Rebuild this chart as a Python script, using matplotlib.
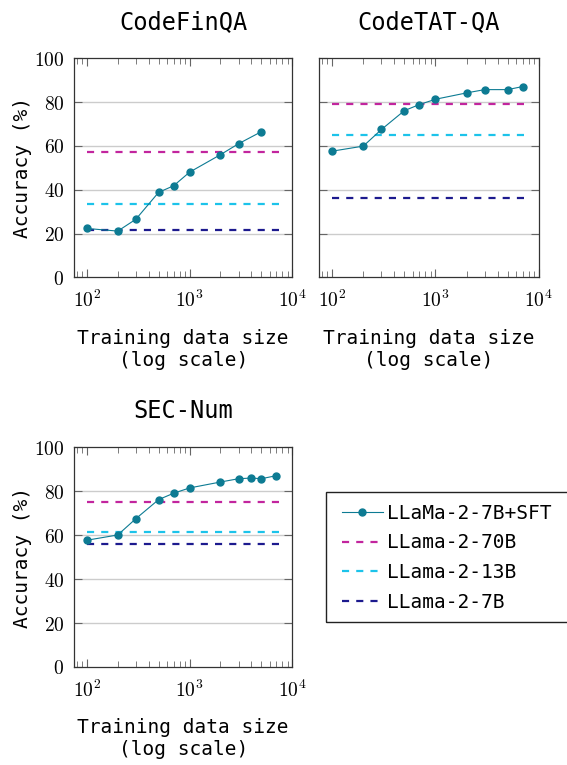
import matplotlib
matplotlib.use('Agg')
import matplotlib.pyplot as plt
import numpy as np
from matplotlib.ticker import FixedLocator, FuncFormatter, LogLocator, NullFormatter
from matplotlib.patches import Rectangle

plt.rcParams['mathtext.fontset'] = 'cm'
plt.rcParams['font.family'] = 'DejaVu Sans Mono'

## Data
titles = ['CodeFinQA', 'CodeTAT-QA', 'SEC-Num']

sizes_finqa = [100, 200, 300, 500, 700, 1000, 2000, 3000, 5000]
acc_finqa = [22.3, 21.1, 26.5, 38.8, 41.8, 48.0, 56.0, 61.0, 66.5]

sizes_tatqa = [100, 200, 300, 500, 700, 1000, 2000, 3000, 5000, 7000]
acc_tatqa = [57.6, 59.9, 67.5, 76.1, 78.9, 81.3, 84.2, 85.7, 85.7, 87.1]

sizes_secnum = [100, 200, 300, 500, 700, 1000, 2000, 3000, 4000, 5000, 7000]
acc_secnum = [57.7, 60.1, 67.5, 76.2, 79.1, 81.5, 84.2, 85.7, 86.0, 85.7, 87.1]

# baselines: LLama-2-70B, LLama-2-13B, LLama-2-7B
base_finqa = [57.3, 33.4, 21.8]
base_tatqa = [79.3, 65.0, 36.0]
base_secnum = [74.9, 61.5, 56.2]
base_span = [100, 8500]

base_names = ['LLama-2-70B', 'LLama-2-13B', 'LLama-2-7B']
base_colors = ['#c2259e', '#1cc3ea', '#1c1a8e']
sft_name = 'LLaMa-2-7B+SFT'
sft_color = '#0d7b93'

W, H = 567, 765
fig = plt.figure(figsize=(W / 100, H / 100), dpi=100)


def px_box(left, top, right, bottom):
    return [left / W, 1 - bottom / H, (right - left) / W, (bottom - top) / H]


boxes = [px_box(74, 58.3, 292.3, 277.3),
         px_box(319.3, 58.3, 538.7, 277.3),
         px_box(74, 447.3, 292.3, 667)]
panels = [(sizes_finqa, acc_finqa, base_finqa),
          (sizes_tatqa, acc_tatqa, base_tatqa),
          (sizes_secnum, acc_secnum, base_secnum)]

for i, (box, title, (xs, ys, bases)) in enumerate(zip(boxes, titles, panels)):
    ax = fig.add_axes(box)
    ax.set_xscale('log')
    ax.set_xlim(75, 10000)
    ax.set_ylim(0, 100)

    for yv in [20, 40, 60, 80]:
        ax.axhline(yv, color='#cccccc', lw=1, zorder=0)

    for b, c, n in zip(bases, base_colors, base_names):
        ax.plot(base_span, [b, b], color=c, lw=1.6, dashes=(3.2, 3.2), label=n, zorder=2)
    ax.plot(xs, ys, color=sft_color, lw=0.8, marker='o', markersize=5,
            label=sft_name, zorder=3)

    ax.xaxis.set_major_locator(FixedLocator([100, 1000, 10000]))
    ax.xaxis.set_major_formatter(FuncFormatter(lambda v, p: r'$10^{%d}$' % round(np.log10(v))))
    ax.xaxis.set_minor_locator(LogLocator(base=10, subs=np.arange(2, 10)))
    ax.xaxis.set_minor_formatter(NullFormatter())
    ax.yaxis.set_major_locator(FixedLocator([0, 20, 40, 60, 80, 100]))
    if i == 1:
        ax.set_yticklabels([])
    else:
        ax.yaxis.set_major_formatter(FuncFormatter(lambda v, p: r'$%d$' % v))
        ax.text(-0.238, 0.5, 'Accuracy (%)', transform=ax.transAxes, rotation=90,
                ha='center', va='center', fontsize=14)

    ax.tick_params(which='both', direction='in', top=True, right=True,
                   color='#666666', labelsize=14)
    ax.tick_params(which='major', length=6, width=0.8)
    ax.tick_params(axis='x', which='major', pad=9)
    ax.tick_params(axis='y', which='major', pad=7)
    ax.tick_params(which='minor', length=4, width=0.6)
    for s in ax.spines.values():
        s.set_color('#333333')
        s.set_linewidth(0.9)

    ax.set_title(title, fontsize=17, pad=21)
    ax.text(0.5, -(349 - 277.3) / 219, 'Training data size\n(log scale)',
            transform=ax.transAxes, ha='center', va='center', fontsize=14)

    if i == 0:
        handles, labels = ax.get_legend_handles_labels()

## Legend (box is cut at the right edge in the original)
order = [3, 0, 1, 2]
leg = fig.legend([handles[k] for k in order], [labels[k] for k in order],
                 loc='upper left', bbox_to_anchor=(334 / W, 1 - 496 / H),
                 borderaxespad=0, frameon=False, fontsize=14,
                 handlelength=2.1, handletextpad=0.25, labelspacing=0.55)
fig.patches.append(Rectangle((326 / W, 1 - 622.3 / H), 260 / W, 130.6 / H,
                             transform=fig.transFigure, fill=False,
                             edgecolor='#222222', lw=1, clip_on=False))

fig.savefig('out.png', dpi=100)
